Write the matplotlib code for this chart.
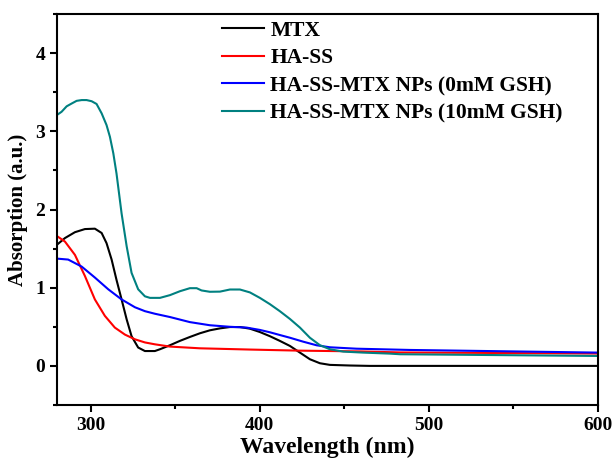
import matplotlib
matplotlib.use("Agg")
import matplotlib.pyplot as plt
from matplotlib.ticker import MultipleLocator

plt.rcParams['font.family'] = ['Liberation Serif', 'DejaVu Serif']
plt.rcParams['font.weight'] = 'bold'

# MTX
mtx_x = [280, 284.7, 290.6, 296.5, 302.4, 306.4, 309.3, 312.3, 315.2, 318.2, 321.2, 324.1, 328, 332,
         337.9, 340.9, 346.8, 352.7, 358.6, 364.5, 370.4, 376.4, 382.3, 388.2, 394.1, 400, 405.9,
         411.8, 417.8, 423.7, 429.6, 435.5, 441.4, 453.2, 465, 600]
mtx_y = [1.55, 1.635, 1.71, 1.75, 1.755, 1.70, 1.57, 1.36, 1.10, 0.85, 0.595, 0.38, 0.235, 0.19,
         0.19, 0.213, 0.264, 0.32, 0.37, 0.417, 0.455, 0.48, 0.497, 0.497, 0.476, 0.433, 0.38,
         0.32, 0.255, 0.17, 0.085, 0.034, 0.013, 0.005, 0.0, 0.0]

# HA-SS
hass_x = [280, 284.7, 290.6, 296.5, 302.4, 308.3, 314.2, 320.2, 326.1, 332, 337.9, 346.8, 364.5,
          394.1, 423.7, 460, 483, 600]
hass_y = [1.66, 1.59, 1.42, 1.15, 0.85, 0.64, 0.49, 0.40, 0.34, 0.30, 0.276, 0.247, 0.225,
          0.209, 0.195, 0.185, 0.172, 0.158]

# HA-SS-MTX NPs (0mM GSH)
np0_x = [280, 286.6, 294.6, 302.4, 310.3, 318.2, 326.1, 332, 337.9, 346.8, 358.6, 370.4, 382.3,
         392.1, 400, 405.9, 411.8, 417.8, 425.6, 433.5, 441.4, 457.2, 488.7, 600]
np0_y = [1.372, 1.36, 1.27, 1.13, 0.98, 0.85, 0.75, 0.70, 0.667, 0.625, 0.56, 0.52, 0.50,
         0.49, 0.46, 0.43, 0.395, 0.36, 0.31, 0.264, 0.238, 0.22, 0.204, 0.17]

# HA-SS-MTX NPs (10mM GSH)
np10_x = [280, 282.7, 285.7, 288.6, 291.6, 294.6, 297.5, 300.5, 303.4, 306.4, 309.3, 311.3, 313.3,
          315.2, 318.2, 321.2, 324.1, 328, 332, 335, 340.9, 346.8, 352.7, 358.6, 362.6, 365.5,
          370.4, 376.4, 382.3, 388.2, 394.1, 400, 405.9, 411.8, 417.8, 423.7, 429.6, 435.5,
          441.4, 449.3, 461.1, 476.9, 483, 600]
np10_y = [3.21, 3.25, 3.32, 3.355, 3.39, 3.40, 3.40, 3.385, 3.35, 3.23, 3.08, 2.93, 2.72,
          2.46, 1.95, 1.53, 1.19, 0.98, 0.89, 0.87, 0.87, 0.905, 0.955, 0.994, 0.994, 0.965,
          0.948, 0.95, 0.977, 0.977, 0.94, 0.87, 0.79, 0.70, 0.60, 0.49, 0.36, 0.265,
          0.213, 0.183, 0.17, 0.157, 0.149, 0.127]

labels = ['MTX', 'HA-SS', 'HA-SS-MTX NPs (0mM GSH)', 'HA-SS-MTX NPs (10mM GSH)']
colors = ['#000000', '#ff0000', '#0000ff', '#008080']

fig = plt.figure(figsize=(6.13, 4.61), dpi=100)
ax = fig.add_axes([0.093, 0.1215, 0.8825, 0.848])

for (x, y), lab, c in zip([(mtx_x, mtx_y), (hass_x, hass_y), (np0_x, np0_y), (np10_x, np10_y)],
                          labels, colors):
    ax.plot(x, y, color=c, lw=1.5, label=lab)

ax.set_xlim(280, 600)
ax.set_ylim(-0.5, 4.5)
ax.xaxis.set_major_locator(MultipleLocator(100))
ax.xaxis.set_minor_locator(MultipleLocator(50))
ax.yaxis.set_major_locator(MultipleLocator(1))
ax.yaxis.set_minor_locator(MultipleLocator(0.5))
ax.tick_params(which='both', direction='out', width=1.5, labelsize=14)
ax.tick_params(which='major', length=5)
ax.tick_params(which='minor', length=3)
for lbl in ax.get_xticklabels() + ax.get_yticklabels():
    lbl.set_fontweight('bold')
for s in ax.spines.values():
    s.set_linewidth(1.5)

ax.set_xlabel('Wavelength (nm)', fontsize=17, fontweight='bold', labelpad=2)
ax.set_ylabel('Absorption (a.u.)', fontsize=15, fontweight='bold', labelpad=5)

leg = ax.legend(loc='upper left', bbox_to_anchor=(0.289, 1.005), frameon=False,
                prop={'size': 15.5, 'weight': 'bold'}, handlelength=1.95, labelspacing=0.35,
                handletextpad=0.3, borderaxespad=0.0)

fig.savefig('out.png', dpi=100)
